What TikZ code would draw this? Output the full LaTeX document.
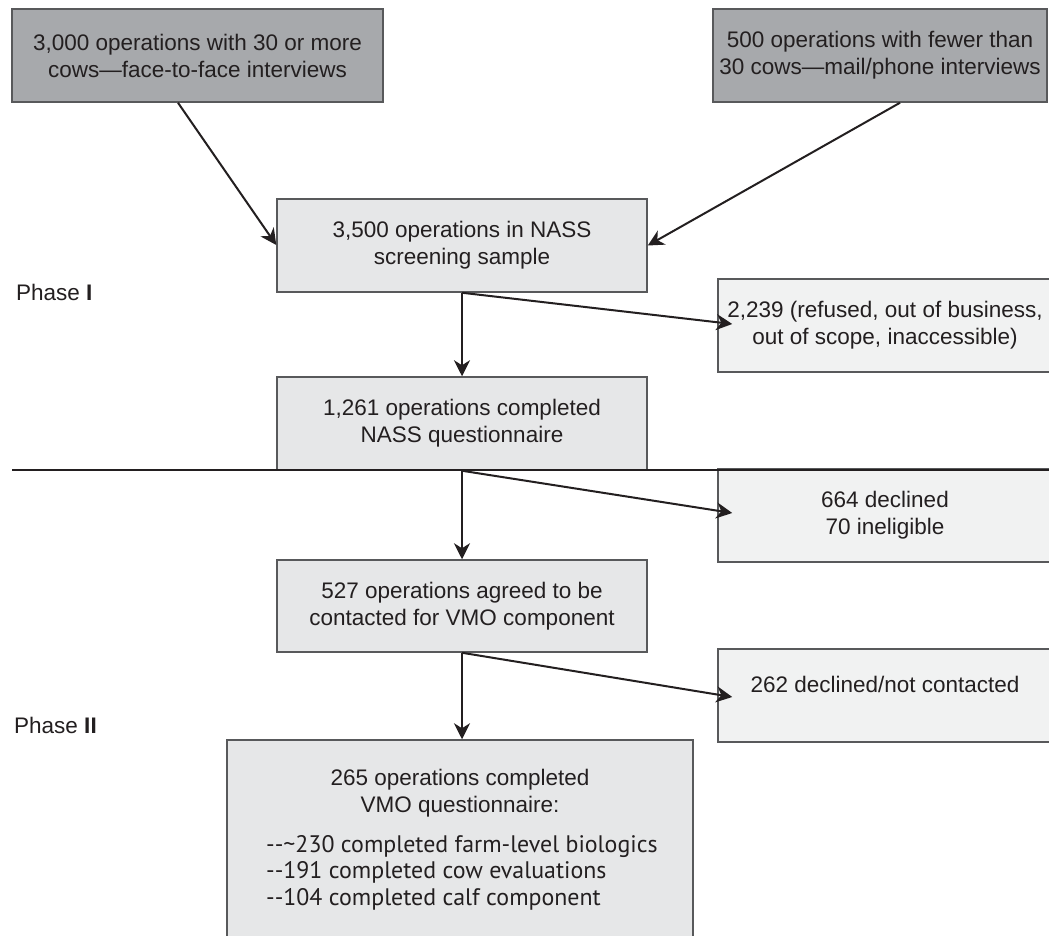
\documentclass[tikz,border=0pt]{standalone}
\usepackage{fontspec}
\setmainfont{Liberation Sans}
\newfontfamily\listfont{PT Sans}
\usetikzlibrary{arrows.meta,calc}
\definecolor{darkfill}{HTML}{A7A9AC}
\definecolor{midfill}{HTML}{E6E7E8}
\definecolor{lightfill}{HTML}{F1F2F2}
\definecolor{edge}{HTML}{58595B}
\definecolor{ink}{HTML}{231F20}
\begin{document}
\begin{tikzpicture}[x=1pt,y=-1pt,
  every node/.style={font=\fontsize{22.5}{27}\selectfont, text=ink},
  boxbase/.style={draw=edge, line width=1.5pt, inner sep=0pt, align=center, anchor=center},
  darkbox/.style={boxbase, fill=darkfill},
  midbox/.style={boxbase, fill=midfill},
  lightbox/.style={boxbase, fill=lightfill, minimum width=334pt, minimum height=93pt},
  flow/.style={draw=ink, line width=2pt, -{Stealth[length=16pt,width=16pt,inset=5pt]}},
  plain/.style={inner sep=0pt},
  listtext/.style={plain, anchor=base west, font=\listfont\fontsize{23.9}{27}\selectfont}
]
\useasboundingbox[fill=white] (0,0) rectangle (1049,936);

\node[darkbox, minimum width=371pt, minimum height=93pt] (tl) at (197.5,55.5) {3,000 operations with 30 or more\\cows—face-to-face interviews};
\node[darkbox, minimum width=334pt, minimum height=93pt] (tr) at (880,55.5) {500 operations with fewer than\\30 cows—mail/phone interviews};

\node[midbox, minimum width=370pt, minimum height=93pt] (b1) at (462,245.5) {3,500 operations in NASS\\screening sample};
\node[lightbox] (r1) at (885,325.5) {2,239 (refused, out of business,\\out of scope, inaccessible)};
\node[midbox, minimum width=370pt, minimum height=93pt] (b2) at (462,423.5) {1,261 operations completed\\NASS questionnaire};
\node[lightbox] (r2) at (885,515.5) {664 declined\\70 ineligible};
\node[midbox, minimum width=370pt, minimum height=92pt] (b3) at (462,606) {527 operations agreed to be\\contacted for VMO component};
\node[lightbox] (r3) at (885,695.5) {};
\node[plain] (r3t) at (885,684.5) {262 declined/not contacted};

\node[midbox, minimum width=466pt, minimum height=205pt] (b4) at (460,842.5) {};
\node[plain, anchor=base] (h1) at (460,785) {265 operations completed};
\node[plain, anchor=base] (h2) at (460,812) {VMO questionnaire:};
\node[listtext] (l1) at (266,852) {-{}-\textasciitilde230 completed farm-level biologics};
\node[listtext] (l2) at (266,878) {-{}-191 completed cow evaluations};
\node[listtext] (l3) at (266,905) {-{}-104 completed calf component};

\coordinate (hl) at (12,470);
\coordinate (hr) at (1049,470);
\draw[draw=ink, line width=1.2pt] (hl) -- (hr);

\node[plain, anchor=base west] (p1) at (16,300) {Phase \textbf{I}};
\node[plain, anchor=base west] (p2) at (14,733) {Phase \textbf{II}};

\draw[flow] ($(tl.south)+(-19.5,0)$) -- ($(b1.west)+(0,-0.5)$);
\draw[flow] ($(tr.south)+(20,0)$) -- (b1.east);
\draw[flow] (b1.south) -- (b2.north);
\draw[flow] (b1.south) -- ($(r1.west)+(15,-1.5)$);
\draw[flow] (b2.south) -- (b3.north);
\draw[flow] (b2.south) -- ($(r2.west)+(15,-2.5)$);
\draw[flow] (b3.south) -- (b3.south |- b4.north);
\draw[flow] (b3.south) -- ($(r3.west)+(15,1.5)$);
\end{tikzpicture}
\end{document}
